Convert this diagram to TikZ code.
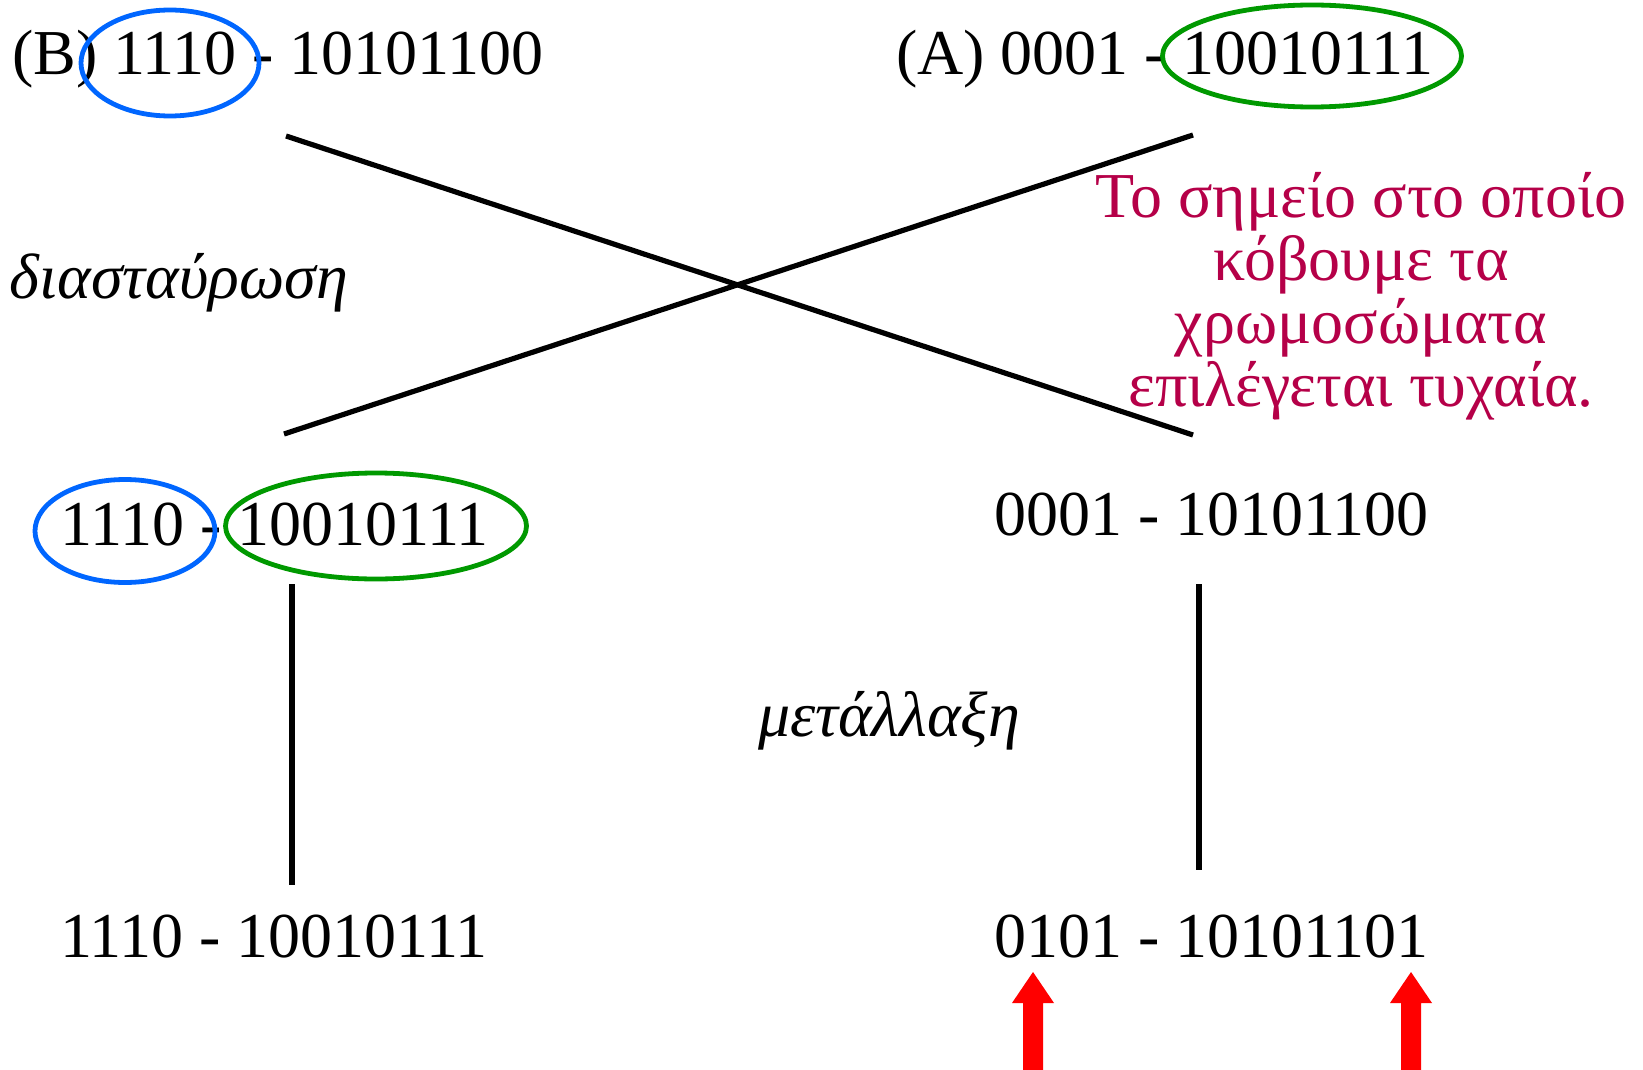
\documentclass[tikz,border=0pt]{standalone}
\usepackage{fontspec}
\setmainfont{Liberation Serif}
\usetikzlibrary{shapes.geometric}
\definecolor{ovalblue}{RGB}{0,102,255}
\definecolor{ovalgreen}{RGB}{0,153,0}
\definecolor{notered}{RGB}{181,0,72}
\definecolor{arrowred}{RGB}{255,0,0}
\newcommand\myfs[1]{\fontsize{#1}{#1}\selectfont}
\tikzset{
  txt/.style={inner sep=0pt, outer sep=0pt, anchor=base west, font=\myfs{32pt}},
  oval/.style={shape=ellipse, draw, line width=2.4pt, inner sep=0pt},
  crossline/.style={line width=2.6pt, line cap=butt},
  stemline/.style={line width=2.6pt},
  note/.style={inner sep=0pt, anchor=base, text=notered, font=\myfs{32pt}},
  pics/uparrow/.style={code={
    \fill[arrowred] (-10,98) -- (-10,31) -- (-21,31) -- (0,0) -- (21,31) -- (10,31) -- (10,98) -- cycle;
  }}
}
\begin{document}
\begin{tikzpicture}[x=0.5pt,y=-0.5pt]
\useasboundingbox (0,0) rectangle (1643,1070);
% top row
\node[txt] (parentB) at (12,75) {(B) 1110 - 10101100};
\node[txt] (parentA) at (896,75) {(A) 0001 - 10010111};
\node[oval,draw=ovalblue,minimum width=89pt,minimum height=53pt] (ovalBtop) at (170,63) {};
\node[oval,draw=ovalgreen,minimum width=149.5pt,minimum height=51pt] (ovalAtop) at (1312,56) {};
% crossing lines
\coordinate (xa1) at (286,136);
\coordinate (xa2) at (1193,435);
\coordinate (xb1) at (1193,135);
\coordinate (xb2) at (284,434);
\draw[crossline] (xa1) -- (xa2);
\draw[crossline] (xb1) -- (xb2);
% labels
\node[txt,font=\itshape\myfs{32pt}] (cross) at (10,298) {διασταύρωση};
\node[note] (n1) at (1361,217) {Το σημείο στο οποίο};
\node[note] (n2) at (1361,280) {κόβουμε τα};
\node[note] (n3) at (1361,343) {χρωμοσώματα};
\node[note] (n4) at (1361,406) {επιλέγεται τυχαία.};
% middle row
\node[txt] (childL) at (61,545) {1110 - 10010111};
\node[txt] (childR) at (994,535) {0001 - 10101100};
\node[oval,draw=ovalblue,minimum width=90pt,minimum height=51.5pt] (ovalBmid) at (125,531) {};
\node[oval,draw=ovalgreen,minimum width=150.5pt,minimum height=53pt] (ovalAmid) at (376,526) {};
% vertical lines
\coordinate (vl1) at (292,584);
\coordinate (vl2) at (292,885);
\coordinate (vr1) at (1199,584);
\coordinate (vr2) at (1199,870);
\draw[stemline] (vl1) -- (vl2);
\draw[stemline] (vr1) -- (vr2);
\node[txt,font=\itshape\myfs{32pt}] (mut) at (758,736) {μετάλλαξη};
% bottom row
\node[txt] (finalL) at (60,957) {1110 - 10010111};
\node[txt] (finalR) at (994,957) {0101 - 10101101};
% red arrows
\pic at (1033,972) {uparrow};
\pic at (1411,972) {uparrow};
\end{tikzpicture}
\end{document}
